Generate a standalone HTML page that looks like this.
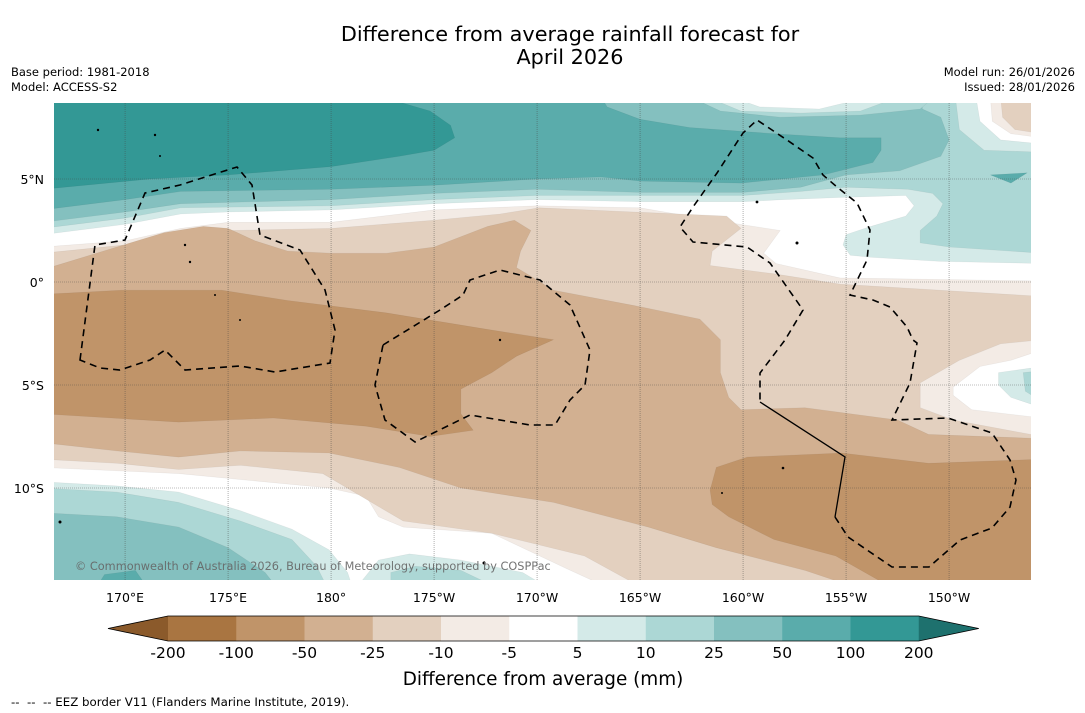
<!DOCTYPE html>
<html><head><meta charset="utf-8">
<style>
html,body{margin:0;padding:0;background:#fff;width:1085px;height:713px;overflow:hidden;font-family:"DejaVu Sans","Liberation Sans",sans-serif;}
svg text{font-family:"DejaVu Sans","Liberation Sans",sans-serif;}
</style></head>
<body>
<svg id="chart" width="1085" height="713" viewBox="0 0 1085 713" xmlns="http://www.w3.org/2000/svg">
  <text x="570" y="41" font-size="20.8" text-anchor="middle" fill="#000">Difference from average rainfall forecast for</text>
  <text x="570" y="64" font-size="20.8" text-anchor="middle" fill="#000">April 2026</text>
  <text x="11" y="76" font-size="11.5" fill="#000">Base period: 1981-2018</text>
  <text x="11" y="91" font-size="11.5" fill="#000">Model: ACCESS-S2</text>
  <text x="1075" y="76" font-size="11.5" text-anchor="end" fill="#000">Model run: 26/01/2026</text>
  <text x="1075" y="91" font-size="11.5" text-anchor="end" fill="#000">Issued: 28/01/2026</text>
  <defs><clipPath id="mapclip"><rect x="54" y="103" width="977" height="477"/></clipPath></defs>
  <g id="map" clip-path="url(#mapclip)">
    <rect x="54" y="103" width="977" height="477" fill="#ffffff"/>
    <g id="contours"></g>
    <g id="grid"></g>
    <g fill="none" stroke="#000" stroke-width="1.6">
      <path stroke-dasharray="7,5" d="M80,360 L95,245 L125,240 L145,193 L180,185 L237,167 L252,185 L260,235 L300,250 L325,290 L335,330 L330,363 L275,372 L240,366 L185,370 L165,350 L150,360 L120,370 L100,368 Z"/>
      <path stroke-dasharray="7,5" d="M383,345 L440,310 L463,295 L470,280 L500,270 L540,280 L570,305 L590,350 L585,385 L570,400 L555,425 L530,425 L470,415 L415,442 L385,420 L375,385 Z"/>
      <path stroke-dasharray="7,5" d="M835,517 L848,537 L892,567 L929,567 L960,540 L992,528 L1010,507 L1016,480 L1010,460 L992,433 L948,418 L892,420 L910,383 L917,343 L913,340 L907,327 L890,307 L873,300 L850,295 L867,260 L870,230 L857,203 L837,187 L823,175 L813,158 L787,140 L757,120 L743,133 L717,173 L693,207 L680,227 L693,242 L747,247 L770,263 L803,310 L785,340 L760,373 L760,402"/>
      <path stroke-width="1.3" d="M760,402 L845,457 L835,517"/>
    </g>
    <g fill="#000">
      <circle cx="98" cy="130" r="1.2"/><circle cx="155" cy="135" r="1.2"/><circle cx="160" cy="156" r="1"/><circle cx="185" cy="245" r="1.2"/><circle cx="190" cy="262" r="1.2"/><circle cx="215" cy="295" r="1"/><circle cx="240" cy="320" r="1"/><circle cx="500" cy="340" r="1.2"/><circle cx="757" cy="202" r="1.4"/><circle cx="797" cy="243" r="1.5"/><circle cx="783" cy="468" r="1.3"/><circle cx="722" cy="493" r="1"/><circle cx="60" cy="522" r="1.5"/><circle cx="484" cy="563" r="1.5"/>
    </g>
    <text x="75" y="570" font-size="11.3" fill="#666" opacity="0.9">© Commonwealth of Australia 2026, Bureau of Meteorology, supported by COSPPac</text>
  </g>
  <g id="axes"></g>
  <g id="colorbar"></g>
  <text x="543" y="685" font-size="18.4" text-anchor="middle" fill="#000">Difference from average (mm)</text>
  <text x="11" y="706" font-size="11.8" fill="#000" style="white-space:pre">--  --  -- EEZ border V11 (Flanders Marine Institute, 2019).</text>
</svg>
<script>
// ---- axis data ----
const lonTicks = [170,175,180,185,190,195,200,205,210];
const lonTickLabels = ["170°E","175°E","180°","175°W","170°W","165°W","160°W","155°W","150°W"];
const latTicks = [5,0,-5,-10];
const latTickLabels = ["5°N","0°","5°S","10°S"];
// ---- colorbar data ----
const levelLabels = ["-200","-100","-50","-25","-10","-5","5","10","25","50","100","200"];
const levelColors = ["#a97541","#c09469","#d2b091","#e3d0bf","#f3ebe5","#ffffff","#d4eae8","#acd7d5","#84c0bf","#5aacab","#339895","#1e716e"];
// ---- contour polygons (lon °E, lat °) ----
const negM10 = [[166,1.7],[170,2.0],[172.7,2.6],[175,2.9],[180,2.9],[185,3.5],[190,3.7],[195,3.6],[197.9,3.1],[201.8,2.5],[201,1.4],[201.6,0.9],[204.7,0.2],[214.5,0.05],[214.5,-15],[193.8,-15],[191.4,-13.9],[187.8,-12.2],[183.5,-11.9],[182.3,-11.4],[181.7,-10.4],[179.9,-10.0],[172.6,-9.3],[166,-9.0]];
const negM25 = [[166,1.4],[170,1.8],[172.7,2.3],[175,2.5],[180,2.6],[185,3.0],[188.2,3.3],[190.1,3.6],[199.2,3.2],[199.9,2.6],[198.5,1.5],[198.4,0.8],[201.5,0.4],[204.7,-0.1],[214.5,-0.7],[214.5,-15],[195.4,-15],[192.3,-13.3],[187.8,-12.2],[183.5,-11.6],[182.3,-10.9],[179.6,-9.3],[175.6,-8.9],[172.6,-9.1],[169.6,-8.8],[166,-8.6]];
const negM50 = [[166,0.6],[171.9,2.4],[173.8,2.7],[175,2.6],[176.3,2.0],[177.9,1.5],[180,1.4],[182.7,1.4],[185,1.7],[187.6,2.7],[188.9,3.0],[189.7,2.5],[189.2,1.5],[189,0.7],[189.5,0.4],[190.8,-0.4],[195,-1.2],[197.9,-1.8],[198.9,-2.8],[198.9,-4.4],[199.3,-5.6],[199.9,-6.2],[203,-6.1],[207.5,-6.7],[209,-7.4],[214.5,-7.6],[214.5,-15],[206,-15],[203,-14.0],[198.7,-12.9],[195.4,-11.9],[190.8,-10.7],[186.3,-10.0],[183.3,-9.0],[179.9,-8.3],[175.6,-8.2],[172.6,-8.5],[169.6,-8.2],[166,-7.8]];
const negM100West = [[166,-0.6],[169.8,-0.4],[174.7,-0.4],[177.9,-0.9],[182.7,-1.5],[187.6,-2.3],[190.8,-2.8],[189,-3.6],[187.8,-4.4],[186.3,-5.2],[186.3,-6.4],[186.9,-7.2],[184.8,-7.5],[181.7,-7.0],[177.2,-6.6],[172.6,-6.8],[166,-6.4]];
const negM100East = [[198.4,-10.1],[198.7,-9.0],[200.2,-8.5],[204.8,-8.3],[209,-8.8],[214.5,-8.6],[214.5,-15],[207.5,-15],[204.5,-13.3],[201.5,-12.5],[199.3,-11.4],[198.5,-10.8]];
const eastRingM10 = [[208.6,-4.9],[210.5,-3.8],[212.5,-3.0],[214.5,-2.8],[214.5,-7.5],[210.2,-6.7],[208.6,-6.1]];
const eastHoleWhite = [[210.2,-5.1],[211.5,-4.1],[213,-3.8],[214.5,-3.3],[214.5,-6.6],[211.1,-6.2],[210.2,-5.5]];
const eastP5 = [[212.4,-4.4],[214.5,-4.1],[214.5,-6.1],[213,-5.6],[212.4,-5.0]];
const eastP10 = [[213.6,-4.4],[214.5,-4.3],[214.5,-5.8],[213.7,-5.3]];
const southP5 = [[166,-9.7],[169.6,-9.9],[172.6,-10.2],[175.6,-11.1],[178.1,-12.0],[179.9,-13.0],[180.8,-14.1],[181.1,-15],[166,-15]];
const southP10 = [[166,-10.0],[169.6,-10.2],[172.6,-10.7],[175.6,-11.6],[178.1,-12.5],[179.3,-13.8],[179.9,-15],[166,-15]];
const southP25 = [[166,-11.2],[169.6,-11.4],[172.6,-11.9],[175,-12.9],[176.8,-14.1],[177.5,-15],[166,-15]];
const southP50 = [[168.5,-15],[169.0,-14.2],[170.5,-14.0],[171.2,-15]];
const midSouthP5 = [[181.1,-15],[182.3,-13.5],[183.8,-13.2],[186.3,-13.5],[189.3,-14.1],[190.8,-15]];
const midSouthP10 = [[182.9,-15],[182.9,-14.1],[184.1,-13.8],[186.3,-14.0],[188.4,-15]];
const northP5 = [[166,9],[214.5,9],[214.5,0.9],[209.6,1.0],[206.2,1.2],[205.2,1.3],[204.85,1.8],[205,2.3],[206.2,2.7],[207.9,3.2],[208.3,3.7],[207.9,4.2],[204.7,4.1],[202,4.0],[200,3.9],[195,3.9],[190,4.0],[185,3.8],[180,3.5],[175,3.4],[172.7,3.3],[170,2.8],[166,2.3]];
const northP10 = [[166,9],[214.5,9],[214.5,1.4],[210,1.7],[208.6,1.9],[208.6,2.5],[209.4,3.2],[209.7,3.8],[209.2,4.3],[208,4.5],[205,4.6],[202.8,4.4],[200,4.2],[195,4.2],[190,4.2],[185,4.0],[180,3.7],[172.7,3.6],[170,3.1],[166,2.6]];
const northP25 = [[166,9],[208.7,9],[208.7,8.4],[209.6,8.0],[210,6.9],[209.6,6.1],[207.6,5.4],[205,5.2],[202.8,4.6],[200,4.35],[195,4.35],[190,4.5],[185,4.3],[180,4.0],[172.7,3.8],[170,3.4],[166,2.9]];
const topHoleP10 = [[197.4,9],[198.9,8.3],[201.8,8.0],[205.7,8.1],[208.6,8.4],[209.3,9]];
const topHoleP5 = [[198.2,9],[199.9,8.3],[202.8,8.2],[205.7,8.3],[207.6,9]];
const topHoleWhite = [[199.4,9],[200.8,8.5],[203.7,8.4],[206.2,9]];
const northP50 = [[166,9],[193.1,9],[193.4,8.5],[195,7.9],[197.4,7.5],[201.5,7.2],[204.7,7.0],[206.7,7.0],[206.7,6.4],[206.3,5.8],[203.9,5.2],[199.9,4.8],[195,4.9],[193.1,5.1],[190,5.0],[185,4.7],[180,4.5],[172.7,4.4],[170,4.0],[166,3.5]];
const northP100 = [[166,9],[182.4,9],[184.8,8.3],[185.8,7.6],[186,7.0],[185,6.4],[183.3,6.1],[180,5.6],[175,5.2],[171.2,5.0],[166,4.5]];
const eastBlobP50 = [[212,5.2],[213.8,5.3],[213,4.8]];
const cornerP5 = [[210.3,9],[210.5,7.4],[211.7,6.4],[214.5,6.3],[214.5,9]];
const cornerWhite = [[211.3,9],[211.5,7.8],[212.5,6.9],[214.5,6.7],[214.5,9]];
const cornerM10 = [[212,9],[212.1,7.8],[213,7.2],[214.5,7.0],[214.5,9]];
const cornerM25 = [[212.5,9],[212.6,8.0],[213.2,7.4],[214.5,7.2],[214.5,9]];

// ---- axis functions ----
function xScale(lon){ return 54 + (lon - 166.55) * 20.6; }
function yScale(lat){ return 282 - lat * 20.6; }
const NS = "http://www.w3.org/2000/svg";

const contourLayers = [
  [negM10, levelColors[4], 'contour-le-minus10'],
  [negM25, levelColors[3], 'contour-le-minus25'],
  [negM50, levelColors[2], 'contour-le-minus50'],
  [negM100West, levelColors[1], 'contour-le-minus100-west'],
  [negM100East, levelColors[1], 'contour-le-minus100-east'],
  [eastRingM10, levelColors[4], 'contour-east-ring-minus10'],
  [eastHoleWhite, levelColors[5], 'contour-east-neutral'],
  [eastP5, levelColors[6], 'contour-east-ge5'],
  [eastP10, levelColors[7], 'contour-east-ge10'],
  [southP5, levelColors[6], 'contour-south-ge5'],
  [southP10, levelColors[7], 'contour-south-ge10'],
  [southP25, levelColors[8], 'contour-south-ge25'],
  [southP50, levelColors[9], 'contour-south-ge50'],
  [midSouthP5, levelColors[6], 'contour-midsouth-ge5'],
  [midSouthP10, levelColors[7], 'contour-midsouth-ge10'],
  [northP5, levelColors[6], 'contour-north-ge5'],
  [northP10, levelColors[7], 'contour-north-ge10'],
  [northP25, levelColors[8], 'contour-north-ge25'],
  [topHoleP10, levelColors[7], 'contour-top-ge10'],
  [topHoleP5, levelColors[6], 'contour-top-ge5'],
  [topHoleWhite, levelColors[5], 'contour-top-neutral'],
  [northP50, levelColors[9], 'contour-north-ge50'],
  [northP100, levelColors[10], 'contour-north-ge100'],
  [eastBlobP50, levelColors[9], 'contour-east-blob-ge50'],
  [cornerP5, levelColors[6], 'contour-corner-ge5'],
  [cornerWhite, levelColors[5], 'contour-corner-neutral'],
  [cornerM10, levelColors[4], 'contour-corner-minus10'],
  [cornerM25, levelColors[3], 'contour-corner-minus25']
];
const cg = document.getElementById('contours');
contourLayers.forEach(function(layer){
  const p = document.createElementNS(NS,'polygon');
  p.setAttribute('points', layer[0].map(function(pt){ return xScale(pt[0]).toFixed(1)+','+yScale(pt[1]).toFixed(1); }).join(' '));
  p.setAttribute('fill', layer[1]);
  p.setAttribute('stroke', 'rgba(0,0,0,0.06)');
  p.setAttribute('stroke-width', '0.6');
  
  
  cg.appendChild(p);
});

// gridlines
const gg = document.getElementById('grid');
lonTicks.forEach(function(lon){
  const l = document.createElementNS(NS,'line');
  l.setAttribute('x1', xScale(lon)); l.setAttribute('x2', xScale(lon));
  l.setAttribute('y1', 103); l.setAttribute('y2', 580);
  l.setAttribute('stroke', '#444'); l.setAttribute('stroke-width', '0.6');
  l.setAttribute('stroke-dasharray', '1,1'); l.setAttribute('opacity', '0.7');
  
  
  gg.appendChild(l);
});
latTicks.forEach(function(lat){
  const l = document.createElementNS(NS,'line');
  l.setAttribute('x1', 54); l.setAttribute('x2', 1031);
  l.setAttribute('y1', yScale(lat)); l.setAttribute('y2', yScale(lat));
  l.setAttribute('stroke', '#444'); l.setAttribute('stroke-width', '0.6');
  l.setAttribute('stroke-dasharray', '1,1'); l.setAttribute('opacity', '0.7');
  
  
  gg.appendChild(l);
});

// axis labels
const ag = document.getElementById('axes');
lonTicks.forEach(function(lon, i){
  const t = document.createElementNS(NS,'text');
  t.setAttribute('x', xScale(lon)); t.setAttribute('y', 602);
  t.setAttribute('font-size', '12.5'); t.setAttribute('text-anchor', 'middle');
  t.textContent = lonTickLabels[i];
  
  
  ag.appendChild(t);
});
latTicks.forEach(function(lat, i){
  const t = document.createElementNS(NS,'text');
  t.setAttribute('x', 44); t.setAttribute('y', yScale(lat) + 5);
  t.setAttribute('font-size', '12.5'); t.setAttribute('text-anchor', 'end');
  t.textContent = latTickLabels[i];
  
  
  ag.appendChild(t);
});

// colorbar
const cb = document.getElementById('colorbar');
const cbX0 = 168, cbW = 68.25, cbY = 616, cbH = 25;
for (let i = 0; i < levelLabels.length - 1; i++) {
  const r = document.createElementNS(NS,'rect');
  r.setAttribute('x', cbX0 + i*cbW); r.setAttribute('y', cbY);
  r.setAttribute('width', cbW + 0.5); r.setAttribute('height', cbH);
  r.setAttribute('fill', levelColors[i]);
  
  
  cb.appendChild(r);
}
const cbEnd = cbX0 + (levelLabels.length - 1)*cbW;
const triL = document.createElementNS(NS,'polygon');
triL.setAttribute('points', (cbX0-60)+','+(cbY+cbH/2)+' '+cbX0+','+cbY+' '+cbX0+','+(cbY+cbH));
triL.setAttribute('fill', '#8b5a2b');


cb.appendChild(triL);
const triR = document.createElementNS(NS,'polygon');
triR.setAttribute('points', cbEnd+','+cbY+' '+(cbEnd+60)+','+(cbY+cbH/2)+' '+cbEnd+','+(cbY+cbH));
triR.setAttribute('fill', levelColors[11]);


cb.appendChild(triR);
const outline = document.createElementNS(NS,'polygon');
outline.setAttribute('points', (cbX0-60)+','+(cbY+cbH/2)+' '+cbX0+','+cbY+' '+cbEnd+','+cbY+' '+(cbEnd+60)+','+(cbY+cbH/2)+' '+cbEnd+','+(cbY+cbH)+' '+cbX0+','+(cbY+cbH));
outline.setAttribute('fill', 'none'); outline.setAttribute('stroke', '#000'); outline.setAttribute('stroke-width', '0.8');


cb.appendChild(outline);
levelLabels.forEach(function(lab, i){
  const t = document.createElementNS(NS,'text');
  t.setAttribute('x', cbX0 + i*cbW); t.setAttribute('y', 658);
  t.setAttribute('font-size', '15.5'); t.setAttribute('text-anchor', 'middle');
  t.textContent = lab;
  
  
  cb.appendChild(t);
});
</script>
</body></html>
